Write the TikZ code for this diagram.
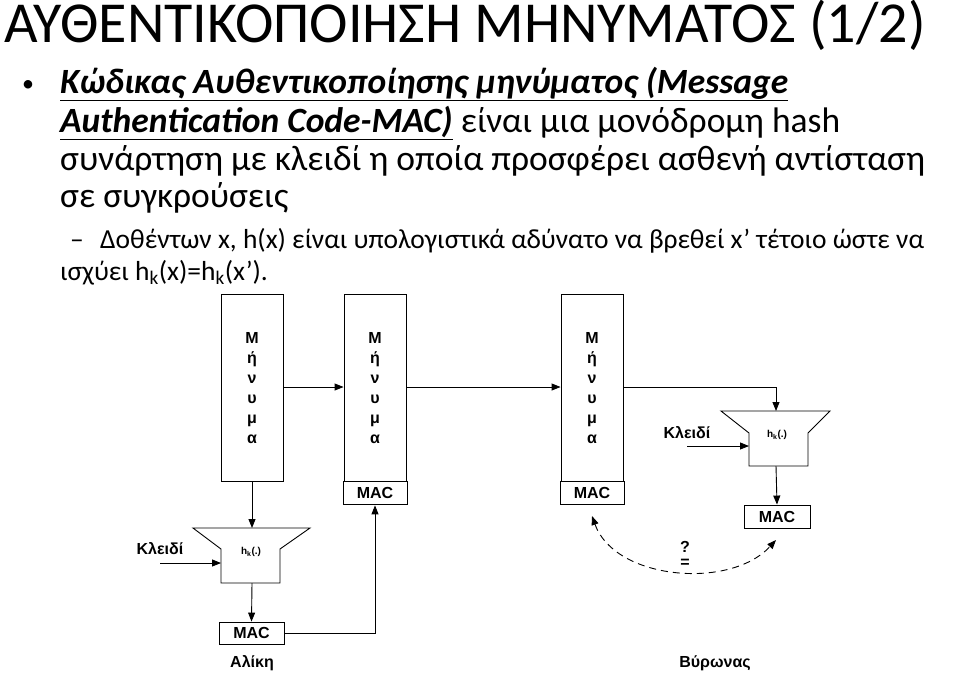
\documentclass[tikz,border=0pt]{standalone}
\usepackage{fontspec}
\setmainfont{Carlito}
\newfontfamily\arialf{Liberation Sans}
\usetikzlibrary{arrows.meta}
\begin{document}
\begin{tikzpicture}[x=1pt,y=-1pt,
  box/.style={draw,line width=0.9pt},
  lbl/.style={font=\arialf\bfseries\fontsize{16}{16}\selectfont},
  big/.style={font=\arialf\bfseries\fontsize{16}{16}\selectfont},
  arr/.style={-{Triangle[length=9pt,width=7pt]},line width=0.9pt},
  txt/.style={anchor=base west,inner sep=0pt,font=\fontsize{35.5}{35.5}\selectfont},
  sub/.style={anchor=base west,inner sep=0pt,font=\fontsize{27.5}{27.5}\selectfont}]
\useasboundingbox (0,0) rectangle (960,673);
% header
\node[anchor=base west,inner sep=0pt,font=\fontsize{58}{58}\selectfont] (title) at (4,42) {ΑΥΘΕΝΤΙΚΟΠΟΙΗΣΗ ΜΗΝΥΜΑΤΟΣ (1/2)};
\node[anchor=base west,inner sep=0pt,font=\fontsize{24}{24}\selectfont] (bul) at (22,91) {•};
\node[txt] (l1) at (60,93) {\bfseries\itshape\underline{Κώδικας Αυθεντικοποίησης μηνύματος (Message}};
\node[txt] (l2) at (60,132) {\underline{\bfseries\itshape Authentication Code-MAC)} είναι μια μονόδρομη hash};
\node[txt] (l3) at (60,170) {συνάρτηση με κλειδί η οποία προσφέρει ασθενή αντίσταση};
\node[txt] (l4) at (60,207) {σε συγκρούσεις};
\node[sub] (d) at (70,248) {–};
\node[sub] (s1) at (100,248) {Δοθέντων x, h(x) είναι υπολογιστικά αδύνατο να βρεθεί x’ τέτοιο ώστε να};
\node[sub] (s2) at (60,280) {ισχύει h\textsubscript{k}(x)=h\textsubscript{k}(x’).};
% message boxes
\foreach \n/\x in {m1/252,m2/375,m3/592}{
  \node[box,minimum width=62pt,minimum height=187pt,inner sep=0pt] (\n) at (\x,387.5) {};
  \node[lbl,align=center] at (\x,388) {Μ\\[4pt]ή\\[4pt]ν\\[4pt]υ\\[4pt]μ\\[4pt]α};
}
\node[box,big,minimum width=64pt,minimum height=23pt,inner sep=0pt,anchor=north] (mac2) at (m2.south) {MAC};
\node[box,big,minimum width=64pt,minimum height=23pt,inner sep=0pt,anchor=north] (mac3) at (m3.south) {MAC};
% hash 1
\draw[box] (193,528) -- (310,528) -- (280,549) -- (280,583) -- (221,583) -- (221,549) -- cycle;
\node[font=\arialf\bfseries\fontsize{10}{10}\selectfont] (h1) at (251,552) {h\textsubscript{k}(.)};
\coordinate (h1top) at (252,528);
\coordinate (h1bot) at (252,583);
\coordinate (h1in) at (221,563);
\coordinate (k1s) at (160,563);
\node[big] (k1) at (160,549) {Κλειδί};
\node[box,big,minimum width=65pt,minimum height=22pt,inner sep=0pt] (mac1) at (251.5,633) {MAC};
\node[big] (al) at (252,663) {Αλίκη};
\draw[arr] (m1.south) -- (h1top);
\draw[arr] (k1s) -- (h1in);
\draw[arr] (h1bot) -- (mac1.north);
\draw[arr] (mac1.east) -| (mac2.south);
\draw[arr] (m1.east |- 0,387) -- (m2.west |- 0,387);
\draw[arr] (m2.east |- 0,387) -- (m3.west |- 0,387);
% hash 2
\draw[box] (721,411) -- (830,411) -- (808,433) -- (808,466) -- (749,466) -- (749,433) -- cycle;
\node[font=\arialf\bfseries\fontsize{10}{10}\selectfont] (h2) at (777,435) {h\textsubscript{k}(.)};
\coordinate (h2top) at (776,411);
\coordinate (h2bot) at (776,466);
\coordinate (h2in) at (749,446);
\coordinate (k2s) at (687,446);
\node[big] (k2) at (687,433) {Κλειδί};
\node[box,big,minimum width=66pt,minimum height=23pt,inner sep=0pt] (mac4) at (777,516.5) {MAC};
\draw[arr] (m3.east |- 0,387) -| (h2top);
\draw[arr] (k2s) -- (h2in);
\draw[arr] (h2bot) -- (mac4.north);
% compare
\coordinate (c1) at (592,516);
\coordinate (c2) at (776,540);
\draw[line width=0.9pt,dash pattern=on 7pt off 5pt,{Triangle[length=9pt,width=7pt]}-{Triangle[length=9pt,width=7pt]}] (c1) .. controls (615,580) and (730,590) .. (c2);
\node[big,inner sep=0pt] (q) at (685,547) {?};
\node[big,inner sep=0pt] (eq) at (685,563) {=};
\node[big] (by) at (715,663) {Βύρωνας};
\end{tikzpicture}
\end{document}
